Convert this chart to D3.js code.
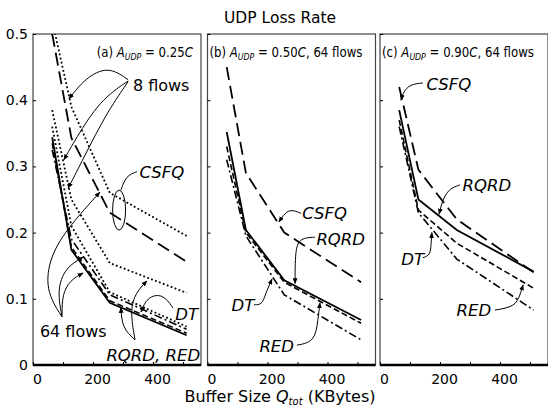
<!DOCTYPE html>
<html>
<head>
<meta charset="utf-8">
<script src="https://cdn.jsdelivr.net/npm/d3@7"></script>
<style>
  body { margin: 0; background: #fff; }
  text { font-family: "DejaVu Sans", Verdana, sans-serif; fill: #000; }
  .lbl { font-style: italic; }
</style>
</head>
<body>
<svg id="chart" width="548" height="410"></svg>
<script>
// buffer sizes (KBytes) on the x axis
const bufferSizes = [64, 128, 256, 512];
const yTickValues = [0, 0.1, 0.2, 0.3, 0.4, 0.5];
const xTickValues = [0, 100, 200, 300, 400, 500];
const xTickLabels = [0, 200, 400];

// (a) A_UDP = 0.25C, dotted = 8 flows, others = 64 flows
const csfq8A  = [0.52, 0.39, 0.26, 0.195];
const red8A   = [0.385, 0.25, 0.154, 0.109];
const dt8A    = [0.36, 0.21, 0.11, 0.058];
const csfq64A = [0.50, 0.343, 0.23, 0.156];
const dt64A   = [0.325, 0.19, 0.106, 0.054];
const red64A  = [0.335, 0.178, 0.097, 0.048];
const rqrd64A = [0.344, 0.174, 0.094, 0.045];

// (b) A_UDP = 0.50C, 64 flows
const csfqB = [0.45, 0.29, 0.20, 0.125];
const dtB   = [0.31, 0.195, 0.106, 0.038];
const redB  = [0.33, 0.20, 0.125, 0.063];
const rqrdB = [0.352, 0.204, 0.128, 0.068];

// (c) A_UDP = 0.90C, 64 flows
const csfqC = [0.42, 0.295, 0.22, 0.14];
const dtC   = [0.36, 0.23, 0.16, 0.083];
const redC  = [0.37, 0.234, 0.184, 0.116];
const rqrdC = [0.385, 0.25, 0.204, 0.141];

const styles = {
  solid:  { dash: null,      w: 1.8 },
  long:   { dash: '13,6',    w: 1.8 },
  short:  { dash: '6,3',     w: 1.6 },
  dashdot:{ dash: '8,3,2,3', w: 1.6 },
  dotted: { dash: '1.8,2.4', w: 1.8 }
};

const panels = [
  { id: 'a', tag: '(a) ', load: '0.25', extra: '', series: [
      [csfq8A, 'dotted'], [red8A, 'dotted'], [dt8A, 'dotted'],
      [csfq64A, 'long'], [dt64A, 'dashdot'], [red64A, 'short'], [rqrd64A, 'solid']] },
  { id: 'b', tag: '(b) ', load: '0.50', extra: ', 64 flows', series: [
      [csfqB, 'long'], [dtB, 'dashdot'], [redB, 'short'], [rqrdB, 'solid']] },
  { id: 'c', tag: '(c) ', load: '0.90', extra: ', 64 flows', series: [
      [csfqC, 'long'], [dtC, 'dashdot'], [redC, 'short'], [rqrdC, 'solid']] }
];

// annotations, in data units of each panel
const notes = [
  { p: 0, text: '8 flows', at: [333, 0.414], italic: false },
  { p: 0, text: 'CSFQ', at: [355, 0.282] },
  { p: 0, text: 'DT', at: [474, 0.068] },
  { p: 0, text: '64 flows', at: [23, 0.042], italic: false },
  { p: 0, text: 'RQRD, RED', at: [557, 0.006], anchor: 'end' },
  { p: 1, text: 'CSFQ', at: [316, 0.22] },
  { p: 1, text: 'RQRD', at: [363, 0.181] },
  { p: 1, text: 'DT', at: [80, 0.082] },
  { p: 1, text: 'RED', at: [173, 0.02] },
  { p: 2, text: 'CSFQ', at: [155, 0.415] },
  { p: 2, text: 'RQRD', at: [275, 0.263] },
  { p: 2, text: 'DT', at: [71, 0.151] },
  { p: 2, text: 'RED', at: [255, 0.074] }
];

const arrows = [
  { p: 0, pts: [[317, 0.431], [250, 0.452], [173, 0.433], [120, 0.402]] },
  { p: 0, pts: [[317, 0.429], [223, 0.40], [140, 0.34], [103, 0.31]] },
  { p: 0, pts: [[317, 0.428], [240, 0.377], [157, 0.302], [117, 0.267]] },
  { p: 0, pts: [[347, 0.292], [310, 0.286], [293, 0.264]], head: false },
  { p: 0, pts: [[467, 0.086], [433, 0.108], [380, 0.103], [360, 0.080]] },
  { p: 0, pts: [[97, 0.0725], [40, 0.113], [57, 0.166], [123, 0.211], [223, 0.261]] },
  { p: 0, pts: [[97, 0.0725], [80, 0.113], [107, 0.147], [167, 0.163]] },
  { p: 0, pts: [[97, 0.0755], [97, 0.106], [123, 0.128], [167, 0.139]] },
  { p: 0, pts: [[340, 0.038], [297, 0.056], [293, 0.087]] },
  { p: 0, pts: [[340, 0.038], [323, 0.083], [343, 0.110], [380, 0.127]] },
  { p: 1, pts: [[312, 0.229], [275, 0.236], [252, 0.226], [238, 0.216]] },
  { p: 1, pts: [[358, 0.193], [308, 0.192], [292, 0.174], [292, 0.123]] },
  { p: 1, pts: [[155, 0.091], [182, 0.091], [192, 0.106], [215, 0.13]] },
  { p: 1, pts: [[298, 0.03], [358, 0.035], [368, 0.068], [375, 0.094]] },
  { p: 2, pts: [[143, 0.426], [100, 0.424], [77, 0.412], [70, 0.40]] },
  { p: 2, pts: [[267, 0.272], [233, 0.267], [210, 0.252], [197, 0.228]] },
  { p: 2, pts: [[143, 0.162], [167, 0.166], [170, 0.181], [173, 0.2]] },
  { p: 2, pts: [[383, 0.083], [450, 0.088], [467, 0.106], [477, 0.121]] }
];

const svg = d3.select('#chart');
const plotTop = 34, plotBottom = 365;
const panelW = 168;
const panelX = [33, 207.5, 380];

const y = d3.scaleLinear().domain([0, 0.5]).range([plotBottom, plotTop]);

svg.append('defs').append('marker')
    .attr('id', 'head')
    .attr('viewBox', '0 0 10 10')
    .attr('refX', 9).attr('refY', 5)
    .attr('markerWidth', 6).attr('markerHeight', 6)
    .attr('orient', 'auto')
  .append('path')
    .attr('d', 'M0,1 L10,5 L0,9 Z')
    .attr('fill', '#000');

const xScales = [];

panels.forEach((p, i) => {
  const x = d3.scaleLinear().domain([0, 560]).range([panelX[i], panelX[i] + panelW]);
  xScales.push(x);
  const g = svg.append('g').attr('class', 'panel-' + p.id);

  g.append('clipPath').attr('id', 'clip-' + p.id)
    .append('rect')
      .attr('x', panelX[i]).attr('y', plotTop)
      .attr('width', panelW).attr('height', plotBottom - plotTop);

  // frame
  g.append('rect')
      .attr('x', panelX[i]).attr('y', plotTop)
      .attr('width', panelW).attr('height', plotBottom - plotTop)
      .attr('fill', 'none').attr('stroke', '#444').attr('stroke-width', 1.2);

  // y ticks (inside), labels only on the first panel
  const yAxis = d3.axisLeft(y).tickValues(yTickValues)
      .tickSizeInner(-3).tickSizeOuter(0).tickPadding(5)
      .tickFormat(i === 0 ? d3.format('') : '');
  g.append('g').attr('transform', `translate(${panelX[i]},0)`)
      .call(yAxis)
      .call(a => a.select('.domain').remove())
      .call(a => a.selectAll('text').attr('font-size', 14).attr('font-family', '"DejaVu Sans", Verdana, sans-serif'));

  // x ticks (inside)
  const xAxis = d3.axisBottom(x).tickValues(xTickValues)
      .tickSizeInner(-3).tickSizeOuter(0).tickPadding(9)
      .tickFormat(d => xTickLabels.includes(d) ? d : '');
  g.append('g').attr('transform', `translate(0,${plotBottom})`)
      .call(xAxis)
      .call(a => a.select('.domain').remove())
      .call(a => a.selectAll('text').attr('font-size', 14).attr('dx', 4)
        .attr('font-family', '"DejaVu Sans", Verdana, sans-serif'));

  // thick bottom axis line
  g.append('line')
      .attr('x1', panelX[i]).attr('x2', panelX[i] + panelW)
      .attr('y1', plotBottom).attr('y2', plotBottom)
      .attr('stroke', '#000').attr('stroke-width', 2.5);

  // lines
  const line = d3.line().x(d => x(d[0])).y(d => y(d[1]));
  g.append('g').attr('clip-path', `url(#clip-${p.id})`)
    .selectAll('path')
    .data(p.series)
    .join('path')
      .attr('d', d => line(d3.zip(bufferSizes, d[0])))
      .attr('fill', 'none')
      .attr('stroke', '#000')
      .attr('stroke-width', d => styles[d[1]].w)
      .attr('stroke-dasharray', d => styles[d[1]].dash);

  // panel heading, squeezed a little like the condensed face of the original
  const hx = i === 0 ? x(533) : panelX[i] + 2;
  const head = g.append('text')
      .attr('font-size', 13.5)
      .attr('transform', `translate(${hx},57) scale(0.87,1)`)
      .attr('text-anchor', i === 0 ? 'end' : 'start');
  head.append('tspan').text(p.tag);
  head.append('tspan').attr('font-style', 'italic').text('A');
  head.append('tspan').attr('font-style', 'italic').attr('font-size', 9).attr('dy', 3).text('UDP');
  head.append('tspan').attr('dy', -3).text(' = ' + p.load);
  head.append('tspan').attr('font-style', 'italic').text('C');
  if (p.extra) head.append('tspan').text(p.extra);
});

// annotation arrows
const curve = d3.line().curve(d3.curveBasis);
svg.append('g').selectAll('path')
  .data(arrows)
  .join('path')
    .attr('d', a => curve(a.pts.map(q => [xScales[a.p](q[0]), y(q[1])])))
    .attr('fill', 'none')
    .attr('stroke', '#000')
    .attr('stroke-width', 1)
    .attr('marker-end', a => a.head === false ? null : 'url(#head)');

// ellipse round the CSFQ lines in (a)
svg.append('ellipse')
    .attr('cx', xScales[0](287)).attr('cy', y(0.234))
    .attr('rx', 6.5).attr('ry', 20)
    .attr('fill', 'none').attr('stroke', '#000').attr('stroke-width', 1);

svg.append('g').selectAll('text')
  .data(notes)
  .join('text')
    .attr('class', d => d.italic === false ? null : 'lbl')
    .attr('font-size', d => d.italic === false ? 16 : 16.5)
    .attr('x', d => xScales[d.p](d.at[0]))
    .attr('y', d => y(d.at[1]))
    .attr('text-anchor', d => d.anchor || 'start')
    .text(d => d.text);

// title and x axis title
svg.append('text')
    .attr('x', 280).attr('y', 23)
    .attr('text-anchor', 'middle')
    .attr('font-size', 15.5)
    .text('UDP Loss Rate');

const xt = svg.append('text')
    .attr('x', 280).attr('y', 402)
    .attr('text-anchor', 'middle')
    .attr('font-size', 16);
xt.append('tspan').text('Buffer Size ');
xt.append('tspan').attr('font-style', 'italic').text('Q');
xt.append('tspan').attr('font-style', 'italic').attr('font-size', 10).attr('dy', 3).text('tot');
xt.append('tspan').attr('dy', -3).text(' (KBytes)');
</script>
</body>
</html>
